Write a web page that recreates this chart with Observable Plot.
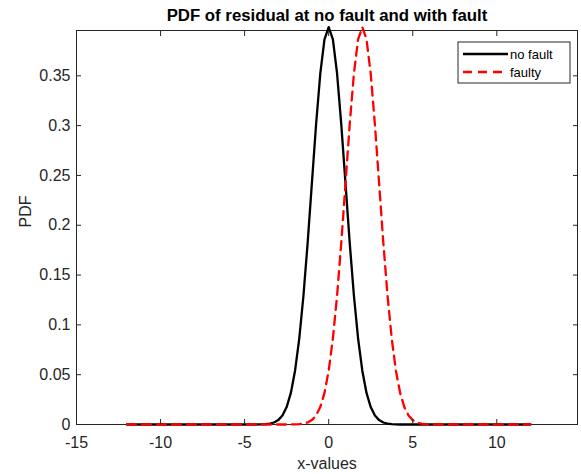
<!DOCTYPE html>
<html>
<head>
<meta charset="utf-8">
<script src="https://cdn.jsdelivr.net/npm/d3@7"></script>
<script src="https://cdn.jsdelivr.net/npm/@observablehq/plot@0.6"></script>
<style>
  html, body { margin: 0; padding: 0; background: #fff; }
  #chart { position: relative; width: 581px; height: 474px; }
  svg { font-family: "Liberation Sans", Arial, sans-serif; }
  g[aria-label$="tick label"], g[aria-label$="tick label"] text { font-size: 16px !important; }
</style>
</head>
<body>
<div id="chart"></div>
<script>
const titleText = "PDF of residual at no fault and with fault";
const xLabel = "x-values";
const yLabel = "PDF";
const seriesNames = ["no fault", "faulty"];
const xTicks = [-15, -10, -5, 0, 5, 10];
const yTicks = [0, 0.05, 0.1, 0.15, 0.2, 0.25, 0.3, 0.35];

const xValues = [-12, -8, -6, -5, -4.5, -4, -3.75, -3.5, -3.25, -3, -2.75, -2.5, -2.25, -2, -1.75, -1.5, -1.25, -1, -0.75, -0.5, -0.25, 0, 0.25, 0.5, 0.75, 1, 1.25, 1.5, 1.75, 2, 2.25, 2.5, 2.75, 3, 3.25, 3.5, 3.75, 4, 4.25, 4.5, 4.75, 5, 5.25, 5.5, 5.75, 6, 6.5, 7, 8, 12];
const noFault = [0, 0, 0, 0, 0, 0.0001, 0.0004, 0.0009, 0.0020, 0.0044, 0.0091, 0.0175, 0.0317, 0.0540, 0.0863, 0.1295, 0.1826, 0.2420, 0.3011, 0.3521, 0.3867, 0.3989, 0.3867, 0.3521, 0.3011, 0.2420, 0.1826, 0.1295, 0.0863, 0.0540, 0.0317, 0.0175, 0.0091, 0.0044, 0.0020, 0.0009, 0.0004, 0.0001, 0, 0, 0, 0, 0, 0, 0, 0, 0, 0, 0, 0];
const faulty = [0, 0, 0, 0, 0, 0, 0, 0, 0, 0, 0, 0, 0, 0.0001, 0.0004, 0.0009, 0.0020, 0.0044, 0.0091, 0.0175, 0.0317, 0.0540, 0.0863, 0.1295, 0.1826, 0.2420, 0.3011, 0.3521, 0.3867, 0.3989, 0.3867, 0.3521, 0.3011, 0.2420, 0.1826, 0.1295, 0.0863, 0.0540, 0.0317, 0.0175, 0.0091, 0.0044, 0.0020, 0.0009, 0.0004, 0.0001, 0, 0, 0, 0];

const dataNo = xValues.map((x, i) => ({x, y: noFault[i]}));
const dataF = xValues.map((x, i) => ({x, y: faulty[i]}));

const axisColor = "#262626";

const plot = Plot.plot({
  width: 581,
  height: 474,
  marginTop: 30,
  marginBottom: 50,
  marginLeft: 76,
  marginRight: 4,
  style: {fontFamily: "'Liberation Sans', Arial, sans-serif", fontSize: "16px", color: axisColor, background: "#fff"},
  x: {domain: [-15, 14.8], ticks: xTicks},
  y: {domain: [0, 0.3955], ticks: yTicks},
  marks: [
    Plot.frame({stroke: axisColor, strokeWidth: 1}),
    Plot.line(dataNo, {x: "x", y: "y", stroke: "#000", strokeWidth: 2.3}),
    Plot.line(dataF, {x: "x", y: "y", stroke: "#ff0000", strokeWidth: 2.3, strokeDasharray: "9,6"}),
    Plot.axisX({ticks: xTicks, tickSize: -5, tickPadding: 17, label: null, stroke: axisColor, fill: axisColor, tickFormat: d => String(d)}),
    Plot.axisX({anchor: "top", ticks: xTicks, tickSize: -5, tickFormat: () => "", label: null, stroke: axisColor}),
    Plot.axisY({ticks: yTicks, tickSize: -5, tickPadding: 11, label: null, stroke: axisColor, fill: axisColor, tickFormat: d => d === 0 ? "0" : String(+d.toFixed(2))}),
    Plot.axisY({anchor: "right", ticks: yTicks, tickSize: -5, tickFormat: () => "", label: null, stroke: axisColor}),
    Plot.text([titleText], {frameAnchor: "top", dy: -21, fontWeight: "bold", fontSize: 16.8, fill: "#000"}),
    Plot.text([xLabel], {frameAnchor: "bottom", dy: 44, fontSize: 16, fill: axisColor}),
    Plot.text([yLabel], {frameAnchor: "left", dx: -51, rotate: -90, fontSize: 16, fill: axisColor})
  ]
});

const svg = d3.select(plot);
svg.selectAll('g[aria-label$="tick label"] text').attr("font-size", 16).style("font-size", "16px");

// legend inside the plot area
const lg = svg.append("g").attr("transform", "translate(458,42)");
lg.append("rect").attr("width", 112).attr("height", 41).attr("fill", "#fff").attr("stroke", axisColor).attr("stroke-width", 1);
const legendItems = [
  {name: seriesNames[0], stroke: "#000", dash: null},
  {name: seriesNames[1], stroke: "#ff0000", dash: "9,6"}
];
legendItems.forEach((d, i) => {
  const y = 12 + i * 18;
  lg.append("line").attr("x1", 5).attr("x2", 50).attr("y1", y).attr("y2", y)
    .attr("stroke", d.stroke).attr("stroke-width", 2.3).attr("stroke-dasharray", d.dash);
  lg.append("text").attr("x", 52).attr("y", y).attr("dy", "0.35em")
    .attr("text-anchor", "start")
    .attr("font-size", 13).attr("fill", "#000").text(d.name);
});

document.getElementById("chart").appendChild(plot);
</script>
</body>
</html>
